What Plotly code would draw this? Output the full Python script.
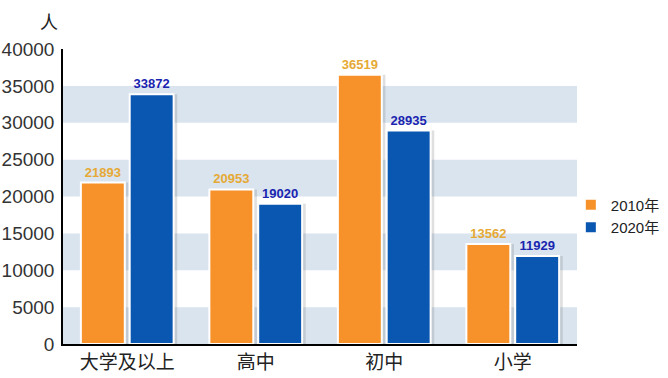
import plotly.graph_objects as go

categories = ["大学及以上", "高中", "初中", "小学"]
values_2010 = [21893, 20953, 36519, 13562]
values_2020 = [33872, 19020, 28935, 11929]
series_names = ["2010年", "2020年"]
y_ticks = [0, 5000, 10000, 15000, 20000, 25000, 30000, 35000, 40000]
band_ranges = [(0, 5000), (10000, 15000), (20000, 25000), (30000, 35000)]

fig = go.Figure()
# soft drop shadows (drawn on the base x axis, shifted a few px to the right)
for vals in (values_2010, values_2020):
    fig.add_trace(go.Bar(
        x=categories, y=vals, xaxis="x", yaxis="y", showlegend=False,
        hoverinfo="skip",
        marker=dict(color="rgba(110,110,110,0.22)", line=dict(width=0)),
    ))
fig.add_trace(go.Bar(
    x=categories, y=values_2010, name=series_names[0], xaxis="x2", yaxis="y",
    marker=dict(color="#F7922B", line=dict(color="white", width=2)),
    text=[str(v) for v in values_2010], textposition="outside",
    textfont=dict(family="Liberation Sans", size=13, color="#E6A935", weight="bold"),
    cliponaxis=False,
))
fig.add_trace(go.Bar(
    x=categories, y=values_2020, name=series_names[1], xaxis="x2", yaxis="y",
    marker=dict(color="#0A57B1", line=dict(color="white", width=2)),
    text=[str(v) for v in values_2020], textposition="outside",
    textfont=dict(family="Liberation Sans", size=13, color="#1A24B0", weight="bold"),
    cliponaxis=False,
))

for a, b in band_ranges:
    fig.add_shape(type="rect", xref="paper", yref="y", x0=0, x1=1, y0=a, y1=b,
                  fillcolor="#D9E4EF", line=dict(width=0), layer="below")

fig.add_annotation(text="人", xref="paper", yref="paper", x=-0.005, y=1.045,
                   showarrow=False, xanchor="right", yanchor="bottom",
                   font=dict(family="Noto Sans CJK SC", size=18, color="#222"))

shift = 0.028
fig.update_layout(
    width=668, height=378,
    margin=dict(l=63, r=91, t=49, b=34, autoexpand=False),
    paper_bgcolor="white", plot_bgcolor="white",
    barmode="group", bargap=0.24, bargroupgap=0.1,
    showlegend=True,
    legend=dict(x=0.988, y=0.434, xanchor="left", yanchor="middle",
                bgcolor="rgba(0,0,0,0)",
                font=dict(family="Liberation Sans, Noto Sans CJK SC", size=15, color="#222"),
                itemwidth=30, tracegroupgap=2),
    xaxis=dict(range=[-0.5 - shift, 3.5 - shift], showline=False, ticks="",
               showticklabels=False, showgrid=False, automargin=False),
    xaxis2=dict(range=[-0.5, 3.5], overlaying="x", side="bottom", anchor="y",
                showline=True, linecolor="black", linewidth=1.5, ticks="",
                tickfont=dict(family="Noto Sans CJK SC", size=19, color="#222"),
                showgrid=False, automargin=False),
    yaxis=dict(range=[0, 40000], tickvals=y_ticks, ticktext=[str(v) for v in y_ticks],
               showline=True, linecolor="black",
               linewidth=1.5, ticks="", showgrid=False, zeroline=False,
               tickfont=dict(family="Liberation Sans", size=19, color="#333"),
               ticklabelstandoff=3, automargin=False),
)

fig.write_html("out.html", config={"displayModeBar": False},
               post_script="document.body.style.margin='0';")
